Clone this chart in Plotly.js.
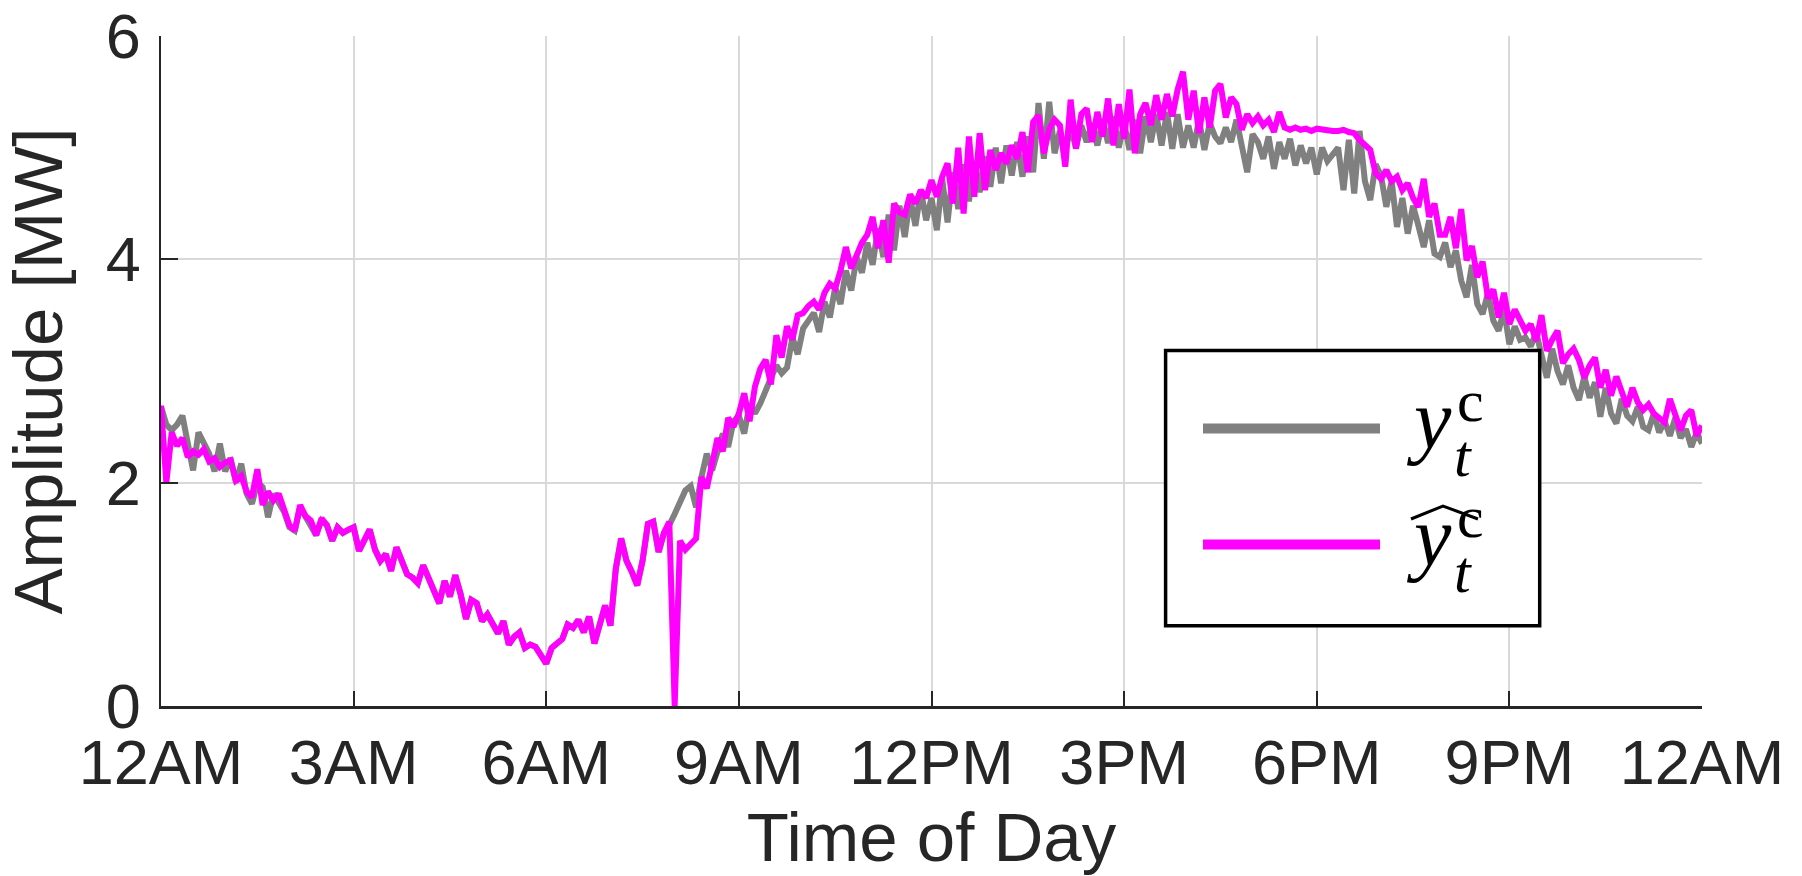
<!DOCTYPE html>
<html>
<head>
<meta charset="utf-8">
<script src="https://cdn.plot.ly/plotly-3.0.1.min.js"></script>
<style>
  html, body { margin: 0; padding: 0; background: #fff; }
  #chart { width: 1802px; height: 876px; }
</style>
</head>
<body>
<div id="chart"></div>
<script>
// ---- Data: 5-minute samples from 12AM (0 min) to 12AM next day (1440 min) ----
const sampleStartMin = 0;
const sampleStepMin = 5;

// Measured aggregate (y_t^c), gray
const measured = [
  2.68, 2.52, 2.47, 2.52, 2.60, 2.38, 2.11, 2.45, 2.36, 2.26, 2.10, 2.35,
  2.10, 2.22, 2.00, 2.17, 1.90, 1.81, 2.00, 1.96, 1.69, 1.90, 1.82, 1.74,
  1.60, 1.57, 1.78, 1.70, 1.62, 1.53, 1.66, 1.62, 1.48, 1.60, 1.55, 1.58,
  1.60, 1.39, 1.50, 1.58, 1.40, 1.30, 1.36, 1.21, 1.42, 1.28, 1.18, 1.15,
  1.10, 1.26, 1.14, 1.05, 0.92, 1.12, 0.98, 1.17, 1.00, 0.78, 0.95, 0.92,
  0.76, 0.82, 0.72, 0.65, 0.76, 0.55, 0.62, 0.66, 0.52, 0.55, 0.53, 0.45,
  0.38, 0.52, 0.56, 0.60, 0.73, 0.70, 0.77, 0.66, 0.80, 0.56, 0.73, 0.90,
  0.72, 1.23, 1.50, 1.30, 1.20, 1.08, 1.30, 1.63, 1.65, 1.38, 1.55, 1.62,
  1.72, 1.84, 1.93, 1.97, 1.78, 2.05, 2.26, 2.11, 2.30, 2.44, 2.32, 2.55,
  2.60, 2.44, 2.70, 2.62, 2.71, 2.82, 2.96, 3.05, 2.98, 3.03, 3.30, 3.15,
  3.38, 3.45, 3.52, 3.35, 3.62, 3.48, 3.75, 3.60, 3.90, 3.72, 4.02, 3.88,
  4.15, 3.95, 4.28, 4.02, 4.40, 4.08, 4.48, 4.20, 4.55, 4.30, 4.62, 4.35,
  4.55, 4.26, 4.72, 4.33, 4.78, 4.45, 4.85, 4.52, 4.88, 4.60, 4.92, 4.65,
  5.00, 4.68, 5.02, 4.75, 5.05, 4.74, 5.10, 4.78, 5.40, 4.90, 5.41, 4.95,
  5.15, 4.98, 5.18, 5.00, 5.20, 5.05, 5.22, 5.02, 5.25, 5.04, 5.28, 5.00,
  5.22, 4.98, 5.25, 4.95, 5.28, 5.05, 5.30, 5.02, 5.32, 4.99, 5.30, 5.00,
  5.20, 5.00, 5.25, 4.98, 5.22, 5.10, 5.04, 5.18, 5.05, 5.25, 5.00, 4.78,
  5.12, 5.05, 4.90, 5.10, 4.81, 5.05, 4.90, 5.08, 4.84, 5.02, 4.86, 5.00,
  4.76, 5.00, 4.88, 4.95, 5.00, 4.62, 5.07, 4.59, 5.15, 4.70, 4.53, 4.85,
  4.75, 4.47, 4.70, 4.29, 4.55, 4.23, 4.48, 4.30, 4.11, 4.35, 4.05, 4.02,
  4.15, 3.93, 4.08, 3.81, 3.66, 3.95, 3.60, 3.51, 3.70, 3.45, 3.36, 3.55,
  3.24, 3.40, 3.28, 3.30, 3.22, 3.35, 3.15, 2.94, 3.20, 3.00, 2.88, 3.05,
  2.85, 2.74, 2.95, 2.76, 2.90, 2.59, 2.85, 2.62, 2.53, 2.75, 2.60, 2.55,
  2.68, 2.50, 2.47, 2.62, 2.45, 2.55, 2.42, 2.58, 2.40, 2.48, 2.32, 2.45,
  2.35
];

// Estimated aggregate (hat y_t^c), magenta
const estimated = [
  2.69, 2.00, 2.45, 2.33, 2.40, 2.23, 2.28, 2.25, 2.30, 2.19, 2.22, 2.14,
  2.18, 2.20, 2.02, 2.06, 1.92, 1.87, 2.12, 1.80, 1.92, 1.84, 1.90, 1.76,
  1.62, 1.57, 1.80, 1.70, 1.66, 1.53, 1.68, 1.62, 1.48, 1.60, 1.55, 1.58,
  1.60, 1.39, 1.50, 1.58, 1.40, 1.30, 1.36, 1.21, 1.42, 1.28, 1.18, 1.15,
  1.10, 1.26, 1.14, 1.05, 0.92, 1.12, 0.98, 1.17, 1.00, 0.78, 0.95, 0.92,
  0.76, 0.82, 0.72, 0.65, 0.76, 0.55, 0.62, 0.66, 0.52, 0.55, 0.53, 0.45,
  0.38, 0.52, 0.56, 0.60, 0.73, 0.70, 0.77, 0.66, 0.80, 0.56, 0.73, 0.90,
  0.72, 1.23, 1.50, 1.30, 1.20, 1.08, 1.30, 1.63, 1.65, 1.38, 1.55, 1.65,
  0.00, 1.48, 1.40, 1.45, 1.50, 2.05, 1.95, 2.17, 2.40, 2.28, 2.58, 2.50,
  2.62, 2.80, 2.55, 2.86, 3.02, 3.10, 2.88, 3.32, 3.12, 3.40, 3.28, 3.50,
  3.52, 3.58, 3.62, 3.55, 3.70, 3.78, 3.74, 3.90, 4.11, 3.92, 4.05, 4.15,
  4.22, 4.38, 4.10, 4.35, 3.97, 4.50, 4.42, 4.40, 4.58, 4.50, 4.62, 4.55,
  4.71, 4.56, 4.74, 4.86, 4.50, 5.00, 4.41, 5.10, 4.56, 5.13, 4.62, 4.98,
  4.80, 4.95, 4.86, 5.02, 4.90, 5.14, 4.78, 5.23, 5.29, 4.95, 5.17, 5.25,
  5.20, 4.83, 5.43, 4.99, 5.30, 5.35, 5.05, 5.32, 5.10, 5.44, 5.02, 5.39,
  5.08, 5.52, 4.95, 5.30, 5.40, 5.20, 5.47, 5.25, 5.48, 5.28, 5.52, 5.68,
  5.25, 5.51, 5.13, 5.45, 5.18, 5.51, 5.57, 5.27, 5.45, 5.39, 5.16, 5.30,
  5.22, 5.28, 5.20, 5.25, 5.14, 5.32, 5.18, 5.16, 5.18, 5.16, 5.17, 5.15,
  5.17, 5.16, 5.16, 5.15, 5.15, 5.16, 5.14, 5.13, 5.07, 5.02, 4.98, 4.77,
  4.72, 4.80, 4.70, 4.74, 4.62, 4.68, 4.55, 4.47, 4.72, 4.38, 4.50, 4.22,
  4.22, 4.38, 4.10, 4.45, 3.99, 4.12, 3.84, 3.98, 3.65, 3.73, 3.48, 3.70,
  3.42, 3.55, 3.45, 3.36, 3.42, 3.27, 3.50, 3.18, 3.28, 3.36, 3.07, 3.15,
  3.20, 3.10, 2.94, 3.05, 3.12, 2.85, 3.01, 2.78, 2.95, 2.80, 2.68, 2.85,
  2.72, 2.65, 2.70, 2.62, 2.58, 2.54, 2.75, 2.60, 2.47, 2.60, 2.65, 2.42,
  2.51
];

const tickMinutes = [0, 180, 360, 540, 720, 900, 1080, 1260, 1440];
const tickLabels = ['12AM', '3AM', '6AM', '9AM', '12PM', '3PM', '6PM', '9PM', '12AM'];
const yTicks = [0, 2, 4, 6];

// ---- Geometry helpers (pixel -> paper) ----
const W = 1802, H = 876;
const M = { l: 161, r: 100, t: 36, b: 170 };
const PW = W - M.l - M.r, PH = H - M.t - M.b;
const px = x => (x - M.l) / PW;
const py = y => (H - M.b - y) / PH;

const AX = '#262626';
const GRID = '#d9d9d9';
const SANS = '"Liberation Sans", Arial, Helvetica, sans-serif';
const SERIF = '"Liberation Serif", "Times New Roman", serif';

const traces = [
  { type: 'scatter', mode: 'lines', name: 'measured',
    x0: sampleStartMin, dx: sampleStepMin, y: measured,
    line: { color: '#808080', width: 6 }, hoverinfo: 'skip' },
  { type: 'scatter', mode: 'lines', name: 'estimated',
    x0: sampleStartMin, dx: sampleStepMin, y: estimated,
    line: { color: '#ff00ff', width: 6 }, hoverinfo: 'skip' }
];

// Legend (drawn manually)
const box = { x0: 1165.6, x1: 1539.7, y0: 350.4, y1: 625.8 };
const legRows = [428.5, 544.5];
const shapes = [
  { type: 'rect', xref: 'paper', yref: 'paper', layer: 'between',
    x0: px(1159), x1: px(1546), y0: py(634), y1: py(344),
    line: { width: 0 }, fillcolor: '#ffffff' },
  { type: 'rect', xref: 'paper', yref: 'paper', layer: 'above',
    x0: px(box.x0), x1: px(box.x1), y0: py(box.y1), y1: py(box.y0),
    line: { color: '#000000', width: 3.5 }, fillcolor: '#ffffff' },
  { type: 'line', xref: 'paper', yref: 'paper', layer: 'above',
    x0: px(1203), x1: px(1380), y0: py(legRows[0]), y1: py(legRows[0]),
    line: { color: '#808080', width: 10 } },
  { type: 'line', xref: 'paper', yref: 'paper', layer: 'above',
    x0: px(1203), x1: px(1380), y0: py(legRows[1]), y1: py(legRows[1]),
    line: { color: '#ff00ff', width: 10 } },
  { type: 'path', xref: 'paper', yref: 'paper', layer: 'above',
    path: `M ${px(1411)},${py(519)} L ${px(1443)},${py(506)} L ${px(1478)},${py(519)}`,
    line: { color: '#000000', width: 3 } }
];

function ann(text, x, yc, size) {
  return { xref: 'paper', yref: 'paper', x: px(x), y: py(yc),
    xanchor: 'left', yanchor: 'middle', showarrow: false,
    text: text, font: { family: SERIF, size: size, color: '#000000' } };
}
const annotations = [];
legRows.forEach((r, i) => {
  const d = r - legRows[0];
  annotations.push(ann('<i>y</i>', 1404, 420 + d, 84));
  annotations.push(ann('c', 1455, 401 + d, 60));
  annotations.push(ann('<i>t</i>', 1452, 456 + d, 60));
});

const layout = {
  width: W, height: H,
  margin: M,
  paper_bgcolor: '#ffffff', plot_bgcolor: '#ffffff',
  showlegend: false,
  font: { family: SANS, color: AX, size: 63 },
  xaxis: {
    range: [0, 1440], tickmode: 'array', tickvals: tickMinutes, ticktext: tickLabels,
    ticks: 'inside', ticklen: 15, tickwidth: 2, tickcolor: AX,
    showline: true, linecolor: AX, linewidth: 2.5, mirror: false,
    showgrid: true, gridcolor: GRID, gridwidth: 2, zeroline: false,
    tickfont: { family: SANS, size: 63, color: AX }, ticklabelstandoff: 0,
    title: { text: 'Time of Day', font: { family: SANS, size: 69, color: AX }, standoff: 18 },
    automargin: false, fixedrange: true
  },
  yaxis: {
    range: [0, 6], tickmode: 'array', tickvals: yTicks,
    ticks: 'inside', ticklen: 17, tickwidth: 2, tickcolor: AX,
    showline: true, linecolor: AX, linewidth: 2.5, mirror: false,
    showgrid: true, gridcolor: GRID, gridwidth: 2, zeroline: false,
    tickfont: { family: SANS, size: 63, color: AX }, ticklabelstandoff: 5,
    title: { text: 'Amplitude [MW]', font: { family: SANS, size: 69, color: AX }, standoff: 35 },
    automargin: false, fixedrange: true
  },
  shapes: shapes,
  annotations: annotations
};

Plotly.newPlot('chart', traces, layout, { staticPlot: true, displayModeBar: false });
</script>
</body>
</html>
